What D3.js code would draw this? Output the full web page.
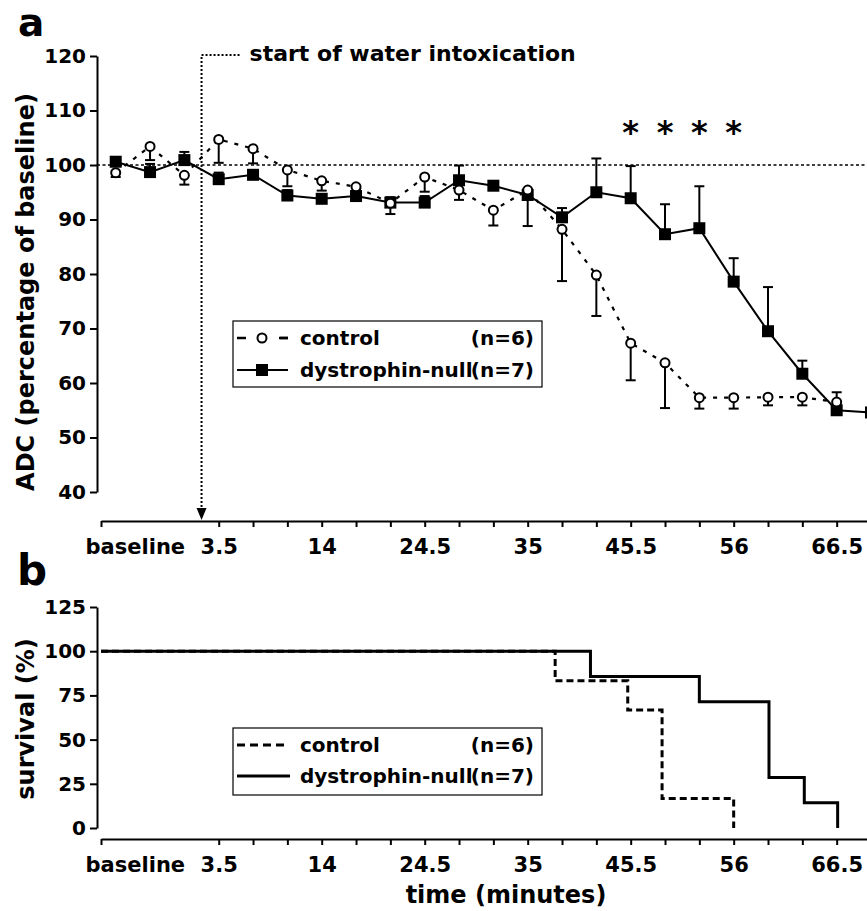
<!DOCTYPE html>
<html>
<head>
<meta charset="utf-8">
<script src="https://cdn.jsdelivr.net/npm/d3@7"></script>
<style>
  body { margin: 0; background: #fff; }
  text { font-family: "DejaVu Sans", Verdana, sans-serif; font-weight: bold; fill: #000; }
</style>
</head>
<body>
<script>
// time points (minutes); the first three are the baseline scans
var times = [-7, -3.5, 0, 3.5, 7, 10.5, 14, 17.5, 21, 24.5, 28, 31.5, 35, 38.5, 42, 45.5, 49, 52.5, 56, 59.5, 63, 66.5, 70];

// ADC, percentage of baseline
var dystrophinAdc = [100.6, 98.7, 100.9, 97.4, 98.2, 94.4, 93.8, 94.3, 93.1, 93.1, 97.2, 96.2, 94.5, 90.4, 95.0, 93.9, 87.3, 88.4, 78.6, 69.5, 61.7, 55.0, 54.6];
var dystrophinErr = [0.8, 1.5, 1.5, 1.2, 0.8, 1.0, 0.8, 0.8, 1.0, 1.2, 2.7, 0.6, 1.0, 1.7, 6.2, 5.9, 5.5, 7.7, 4.3, 8.1, 2.4, 3.3, 0.5];
var controlAdc = [98.6, 103.4, 98.1, 104.7, 103.0, 99.1, 97.1, 96.0, 93.0, 97.8, 95.4, 91.7, 95.4, 88.2, 79.8, 67.3, 63.7, 57.3, 57.3, 57.4, 57.4, 56.5];
var controlErr = [0.8, 2.5, 1.7, 4.3, 2.7, 3.0, 1.8, 0.8, 2.0, 2.7, 1.8, 2.8, 6.6, 9.5, 7.5, 6.8, 8.3, 2.0, 2.0, 1.5, 1.5, 2.0];
var sigTimes = [45.5, 49, 52.5, 56];
var startTime = 1.75;

// survival (%) steps
var controlSurvTimes = [-8.5, 37.8, 45.2, 48.7, 56];
var controlSurv = [100, 83.3, 66.7, 16.7, 0];
var dystrophinSurvTimes = [-8.5, 41.4, 52.5, 59.6, 63.2, 66.6];
var dystrophinSurv = [100, 85.7, 71.4, 28.6, 14.3, 0];

// axes
var xTicks = [-8.5, 3.5, 7, 10.5, 14, 17.5, 21, 24.5, 28, 31.5, 35, 38.5, 42, 45.5, 49, 52.5, 56, 59.5, 63, 66.5];
var xLabels = [3.5, 14, 24.5, 35, 45.5, 56, 66.5];
var adcTicks = [40, 50, 60, 70, 80, 90, 100, 110, 120];
var survTicks = [0, 25, 50, 75, 100, 125];

var svg = d3.select("body").append("svg")
  .attr("width", 867)
  .attr("height", 911);

var x = d3.scaleLinear().domain([-8.5, 70]).range([101, 871]);
var yA = d3.scaleLinear().domain([40, 120]).range([492, 56]);
var yB = d3.scaleLinear().domain([0, 125]).range([828, 607]);

function styleAxis(g) {
  g.selectAll("path, line").attr("stroke", "#000").attr("stroke-width", 2);
  g.selectAll("text").attr("font-size", 20).attr("fill", "#000")
    .attr("font-family", "DejaVu Sans").attr("font-weight", "bold");
}

function xAxis(yPos) {
  var g = svg.append("g")
    .attr("transform", "translate(0," + yPos + ")")
    .call(d3.axisBottom(x)
      .tickValues(xTicks)
      .tickSize(6)
      .tickSizeOuter(0)
      .tickPadding(12)
      .tickFormat(function (d) { return xLabels.indexOf(d) >= 0 ? d : ""; }));
  styleAxis(g);
  g.selectAll("text").attr("font-size", 21);
  g.append("text")
    .attr("x", x(-5))
    .attr("y", 18)
    .attr("dy", "0.71em")
    .attr("text-anchor", "middle")
    .attr("font-size", 21)
    .text("baseline");
  return g;
}

function yAxis(scale, ticks) {
  var g = svg.append("g")
    .attr("transform", "translate(97,0)")
    .call(d3.axisLeft(scale).tickValues(ticks).tickSize(7).tickSizeOuter(0).tickPadding(4));
  styleAxis(g);
  return g;
}

// ---------- panel a ----------
svg.append("text").attr("x", 18).attr("y", 36).attr("font-size", 39).text("a");

yAxis(yA, adcTicks);
xAxis(521);

svg.append("text")
  .attr("transform", "translate(34,292) rotate(-90)")
  .attr("text-anchor", "middle")
  .attr("font-size", 24)
  .text("ADC (percentage of baseline)");

// 100 % reference
svg.append("line")
  .attr("x1", 97).attr("x2", 867)
  .attr("y1", yA(100)).attr("y2", yA(100))
  .attr("stroke", "#000").attr("stroke-width", 1.5)
  .attr("stroke-dasharray", "3,2.5");

// start of water intoxication marker
var sx = x(startTime);
svg.append("path")
  .attr("d", "M" + (sx + 38) + ",55H" + sx + "V509")
  .attr("fill", "none").attr("stroke", "#000").attr("stroke-width", 2)
  .attr("stroke-dasharray", "2,2");
svg.append("path")
  .attr("d", "M" + (sx - 5) + ",508L" + (sx + 5) + ",508L" + sx + ",520Z")
  .attr("fill", "#000");
svg.append("text")
  .attr("x", sx + 48).attr("y", 61)
  .attr("font-size", 22)
  .text("start of water intoxication");

// significance
svg.selectAll(".sig").data(sigTimes).enter().append("text")
  .attr("class", "sig")
  .attr("x", function (d) { return x(d); })
  .attr("y", 143)
  .attr("text-anchor", "middle")
  .attr("font-size", 32)
  .text("*");

var dystro = times.map(function (t, i) { return { t: t, v: dystrophinAdc[i], e: dystrophinErr[i] }; });
var ctrl = controlAdc.map(function (v, i) { return { t: times[i], v: v, e: controlErr[i] }; });

var lineA = d3.line().x(function (d) { return x(d.t); }).y(function (d) { return yA(d.v); });

svg.append("path").datum(dystro)
  .attr("d", lineA).attr("fill", "none")
  .attr("stroke", "#000").attr("stroke-width", 2);
svg.append("path").datum(ctrl)
  .attr("d", lineA).attr("fill", "none")
  .attr("stroke", "#000").attr("stroke-width", 2.2)
  .attr("stroke-dasharray", "4,7");

// error bars: dystrophin up, control down
function errBars(data, dir) {
  var g = svg.append("g").attr("stroke", "#000").attr("stroke-width", 2);
  g.selectAll(".stem").data(data).enter().append("line")
    .attr("x1", function (d) { return x(d.t); })
    .attr("x2", function (d) { return x(d.t); })
    .attr("y1", function (d) { return yA(d.v); })
    .attr("y2", function (d) { return yA(d.v + dir * d.e); });
  g.selectAll(".cap").data(data).enter().append("line")
    .attr("x1", function (d) { return x(d.t) - 5; })
    .attr("x2", function (d) { return x(d.t) + 5; })
    .attr("y1", function (d) { return yA(d.v + dir * d.e); })
    .attr("y2", function (d) { return yA(d.v + dir * d.e); });
}
errBars(dystro, 1);
errBars(ctrl, -1);

svg.selectAll(".sq").data(dystro).enter().append("rect")
  .attr("class", "sq")
  .attr("x", function (d) { return x(d.t) - 6; })
  .attr("y", function (d) { return yA(d.v) - 6; })
  .attr("width", 12).attr("height", 12)
  .attr("fill", "#000");

svg.selectAll(".ci").data(ctrl).enter().append("circle")
  .attr("class", "ci")
  .attr("cx", function (d) { return x(d.t); })
  .attr("cy", function (d) { return yA(d.v); })
  .attr("r", 4.5)
  .attr("fill", "#fff").attr("stroke", "#000").attr("stroke-width", 2);

// legend a
var legA = svg.append("g");
legA.append("rect").attr("x", 233).attr("y", 321).attr("width", 309).attr("height", 66)
  .attr("fill", "#fff").attr("stroke", "#000").attr("stroke-width", 1.2);
legA.append("line").attr("x1", 237).attr("x2", 288).attr("y1", 338).attr("y2", 338)
  .attr("stroke", "#000").attr("stroke-width", 2.5).attr("stroke-dasharray", "9,34");
legA.append("line").attr("x1", 279).attr("x2", 288).attr("y1", 338).attr("y2", 338)
  .attr("stroke", "#000").attr("stroke-width", 2.5);
legA.append("circle").attr("cx", 262).attr("cy", 338).attr("r", 4.5)
  .attr("fill", "#fff").attr("stroke", "#000").attr("stroke-width", 2);
legA.append("line").attr("x1", 237).attr("x2", 288).attr("y1", 370).attr("y2", 370)
  .attr("stroke", "#000").attr("stroke-width", 2);
legA.append("rect").attr("x", 256).attr("y", 364).attr("width", 12).attr("height", 12).attr("fill", "#000");

// ---------- panel b ----------
svg.append("text").attr("x", 17).attr("y", 585).attr("font-size", 42).text("b");

yAxis(yB, survTicks);
xAxis(839);

svg.append("text")
  .attr("transform", "translate(34,719) rotate(-90)")
  .attr("text-anchor", "middle")
  .attr("font-size", 24)
  .text("survival (%)");

svg.append("text")
  .attr("x", 506).attr("y", 903)
  .attr("text-anchor", "middle")
  .attr("font-size", 24)
  .text("time (minutes)");

var lineB = d3.line()
  .x(function (d) { return x(d[0]); })
  .y(function (d) { return yB(d[1]); })
  .curve(d3.curveStepAfter);

svg.append("path")
  .datum(controlSurvTimes.map(function (t, i) { return [t, controlSurv[i]]; }))
  .attr("d", lineB).attr("fill", "none")
  .attr("stroke", "#000").attr("stroke-width", 3)
  .attr("stroke-dasharray", "7,4");
svg.append("path")
  .datum(dystrophinSurvTimes.map(function (t, i) { return [t, dystrophinSurv[i]]; }))
  .attr("d", lineB).attr("fill", "none")
  .attr("stroke", "#000").attr("stroke-width", 3);

// legend b
var legB = svg.append("g");
legB.append("rect").attr("x", 233).attr("y", 728).attr("width", 309).attr("height", 67)
  .attr("fill", "#fff").attr("stroke", "#000").attr("stroke-width", 1.2);
legB.append("line").attr("x1", 237).attr("x2", 287).attr("y1", 745).attr("y2", 745)
  .attr("stroke", "#000").attr("stroke-width", 3).attr("stroke-dasharray", "8,5");
legB.append("line").attr("x1", 237).attr("x2", 290).attr("y1", 776).attr("y2", 776)
  .attr("stroke", "#000").attr("stroke-width", 3);

// legend labels (same in both panels)
[[338, 370], [745, 776]].forEach(function (rows) {
  svg.append("text").attr("x", 300).attr("y", rows[0] + 7).attr("font-size", 20).text("control");
  svg.append("text").attr("x", 534).attr("y", rows[0] + 7).attr("text-anchor", "end").attr("font-size", 20).text("(n=6)");
  svg.append("text").attr("x", 300).attr("y", rows[1] + 7).attr("font-size", 20).text("dystrophin-null");
  svg.append("text").attr("x", 534).attr("y", rows[1] + 7).attr("text-anchor", "end").attr("font-size", 20).text("(n=7)");
});
</script>
</body>
</html>
